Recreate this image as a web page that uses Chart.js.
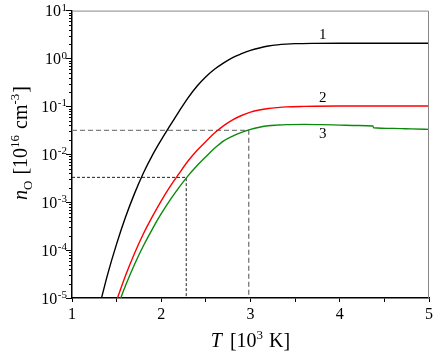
<!DOCTYPE html>
<html>
<head>
<meta charset="utf-8">
<script src="https://cdn.jsdelivr.net/npm/chart.js@4/dist/chart.umd.min.js"></script>
<style>
html,body{margin:0;padding:0;background:#fff;}
#wrap{width:436px;height:358px;}
</style>
</head>
<body>
<div id="wrap"><canvas id="c" width="436" height="358"></canvas></div>
<script>
// Curve 1 (black)
const T1 = [1.30,1.40,1.50,1.60,1.70,1.80,1.90,2.00,2.10,2.20,2.30,2.40,2.50,2.60,2.70,2.80,2.90,3.00,3.10,3.20,3.30,3.40,3.50,3.70,4.00,4.50,5.00];
const n1 = [5.9e-6,3.16e-5,1.35e-4,4.9e-4,1.51e-3,4.07e-3,9.5e-3,0.020,0.040,0.079,0.151,0.263,0.417,0.603,0.813,1.047,1.259,1.479,1.66,1.82,1.93,2.0,2.04,2.07,2.08,2.08,2.08];
// Curve 2 (red)
const T2 = [1.50,1.60,1.70,1.80,1.90,2.00,2.10,2.20,2.30,2.40,2.50,2.60,2.70,2.80,2.90,3.00,3.10,3.20,3.30,3.40,3.60,4.00,5.00];
const n2 = [8.9e-6,2.95e-5,8.5e-5,2.19e-4,5.0e-4,1.07e-3,2.14e-3,3.98e-3,7.24e-3,0.0120,0.0186,0.0282,0.0398,0.0525,0.0646,0.0759,0.0841,0.0902,0.0944,0.0977,0.100,0.102,0.102];
// Curve 3 (green)
const T3 = [1.54,1.60,1.70,1.80,1.90,2.00,2.10,2.20,2.30,2.40,2.50,2.60,2.70,2.80,2.90,3.00,3.10,3.20,3.30,3.40,3.60,3.80,4.00,4.20,4.37,4.38,4.60,4.80,5.00];
const n3 = [9.3e-6,1.82e-5,5.0e-5,1.23e-4,2.75e-4,5.75e-4,1.12e-3,2.04e-3,3.55e-3,5.75e-3,8.9e-3,0.0135,0.0191,0.0240,0.0288,0.0331,0.0367,0.0394,0.0407,0.0417,0.0422,0.0417,0.0407,0.0398,0.0389,0.0359,0.0347,0.0339,0.0331];
// Dashed guide lines (T, n)
const refT = [2.28, 2.98];
const refN = [0.0033, 0.0316];
// Curve number labels
const curveLabels = ['1','2','3'];
const labelT = [3.81, 3.81, 3.81];
const labelN = [3.1, 0.15, 0.026];
// Tick values
const xTicks = [1,1.5,2,2.5,3,3.5,4,4.5,5];
const yDecades = [-5,-4,-3,-2,-1,0,1];

const SERIF = '"Liberation Serif","Times New Roman",serif';
const pts = (xs, ys) => xs.map((x, i) => ({x: x, y: ys[i]}));
const yMin = Math.pow(10, yDecades[0]);
const isPow = v => { const lg = Math.log10(v); return Math.abs(lg - Math.round(lg)) < 1e-6; };

const datasets = [
  {data: pts(T1, n1), borderColor: '#000000'},
  {data: pts(T2, n2), borderColor: '#ff0000'},
  {data: pts(T3, n3), borderColor: '#0a8a0a'},
].map(d => Object.assign(d, {borderWidth: 1.4, pointRadius: 0, fill: false, cubicInterpolationMode: 'monotone'}));

refT.forEach((t, i) => {
  datasets.push({
    data: [{x: 1, y: refN[i]}, {x: t, y: refN[i]}, {x: t, y: yMin}],
    borderColor: i === 0 ? '#222222' : '#808080',
    borderWidth: i === 0 ? 1 : 1.4,
    borderDash: i === 0 ? [3, 2] : [5, 3],
    pointRadius: 0, fill: false, tension: 0
  });
});

const decor = {
  id: 'decor',
  afterDraw(chart) {
    const ctx = chart.ctx, a = chart.chartArea;
    const xs = chart.scales.x, ys = chart.scales.y;
    ctx.save();
    // top and right frame
    ctx.strokeStyle = '#888';
    ctx.lineWidth = 1;
    ctx.beginPath();
    ctx.moveTo(a.left, a.top + 0.5); ctx.lineTo(a.right - 0.5, a.top + 0.5); ctx.lineTo(a.right - 0.5, a.bottom);
    ctx.stroke();
    // minor y ticks and decade labels 10^n
    ctx.strokeStyle = '#000';
    ctx.fillStyle = '#000';
    ctx.lineWidth = 1;
    ctx.textAlign = 'left'; ctx.textBaseline = 'alphabetic';
    ys.ticks.forEach(t => {
      const py = ys.getPixelForValue(t.value);
      if (!isPow(t.value)) {
        const p = Math.round(py) + 0.5;
        ctx.beginPath(); ctx.moveTo(a.left - 3, p); ctx.lineTo(a.left, p); ctx.stroke();
      } else {
        const e = String(Math.round(Math.log10(t.value)));
        ctx.font = '11px ' + SERIF;
        const wE = ctx.measureText(e).width;
        ctx.font = '16px ' + SERIF;
        const w10 = ctx.measureText('10').width;
        const right = a.left - 5;
        ctx.fillText('10', right - wE - w10 - 0.5, py + 5.5);
        ctx.font = '11px ' + SERIF;
        ctx.fillText(e, right - wE, py);
      }
    });
    // curve labels
    ctx.font = '15px ' + SERIF;
    ctx.textAlign = 'center'; ctx.textBaseline = 'middle';
    curveLabels.forEach((s, i) => {
      ctx.fillText(s, xs.getPixelForValue(labelT[i]), ys.getPixelForValue(labelN[i]));
    });
    // axis titles
    const drawRuns = (runs, x0, y0) => {
      let x = x0;
      runs.forEach(r => {
        ctx.font = r.f;
        ctx.fillText(r.t, x, y0 + (r.dy || 0));
        x += ctx.measureText(r.t).width + (r.gap || 0);
      });
    };
    const measureRuns = runs => runs.reduce((s, r) => { ctx.font = r.f; return s + ctx.measureText(r.t).width + (r.gap || 0); }, 0);
    ctx.textAlign = 'left'; ctx.textBaseline = 'alphabetic';
    const big = '20px ' + SERIF, bigI = 'italic 20px ' + SERIF, small = '13px ' + SERIF;
    const xt = [
      {t: 'T', f: bigI, gap: 3}, {t: ' [10', f: big}, {t: '3', f: small, dy: -8, gap: 1}, {t: ' K]', f: big}
    ];
    const wx = measureRuns(xt);
    drawRuns(xt, (a.left + a.right) / 2 - wx / 2, 347);
    const yt = [
      {t: 'n', f: bigI}, {t: 'O', f: small, dy: 5, gap: 1}, {t: ' [10', f: big}, {t: '16', f: small, dy: -8, gap: 1},
      {t: ' cm', f: big}, {t: '-3', f: small, dy: -8, gap: 1}, {t: ']', f: big}
    ];
    const wy = measureRuns(yt);
    ctx.translate(27, 143);
    ctx.rotate(-Math.PI / 2);
    drawRuns(yt, -wy / 2, 0);
    ctx.restore();
  }
};

new Chart(document.getElementById('c'), {
  type: 'line',
  data: {datasets: datasets},
  plugins: [decor],
  options: {
    responsive: false,
    animation: false,
    layout: {padding: {top: 10, right: 5, left: 0, bottom: 0}},
    plugins: {legend: {display: false}, tooltip: {enabled: false}},
    scales: {
      x: {
        type: 'linear', min: 1, max: 5,
        afterBuildTicks: s => { s.ticks = xTicks.map(v => ({value: v})); },
        afterFit: s => { s.height = 60; },
        border: {display: true, color: '#000', width: 1.5},
        grid: {display: true, drawOnChartArea: false, tickLength: 4, color: '#000', lineWidth: 1},
        ticks: {
          autoSkip: false, maxRotation: 0, padding: 3, color: '#000',
          font: {family: SERIF, size: 16},
          callback: v => Number.isInteger(v) ? String(v) : ''
        }
      },
      y: {
        type: 'logarithmic', min: yMin, max: Math.pow(10, yDecades[yDecades.length - 1]),
        afterBuildTicks: s => {
          const t = [];
          yDecades.forEach((d, i) => {
            if (i < yDecades.length - 1) {
              [1,2,3,4,5,6,7,8,9].forEach(k => t.push({value: k * Math.pow(10, d)}));
            } else {
              t.push({value: Math.pow(10, d)});
            }
          });
          s.ticks = t;
        },
        afterFit: s => { s.width = 72; },
        border: {display: true, color: '#000', width: 1.5},
        grid: {
          display: true, drawOnChartArea: false, tickLength: 6, lineWidth: 1,
          color: c => (!c.tick || isPow(c.tick.value)) ? '#000' : 'rgba(0,0,0,0)'
        },
        ticks: {
          autoSkip: false, padding: 1, color: 'rgba(0,0,0,0)',
          font: {family: SERIF, size: 16},
          callback: v => isPow(v) ? '10^' + Math.round(Math.log10(v)) : ''
        }
      }
    }
  }
});
</script>
</body>
</html>
